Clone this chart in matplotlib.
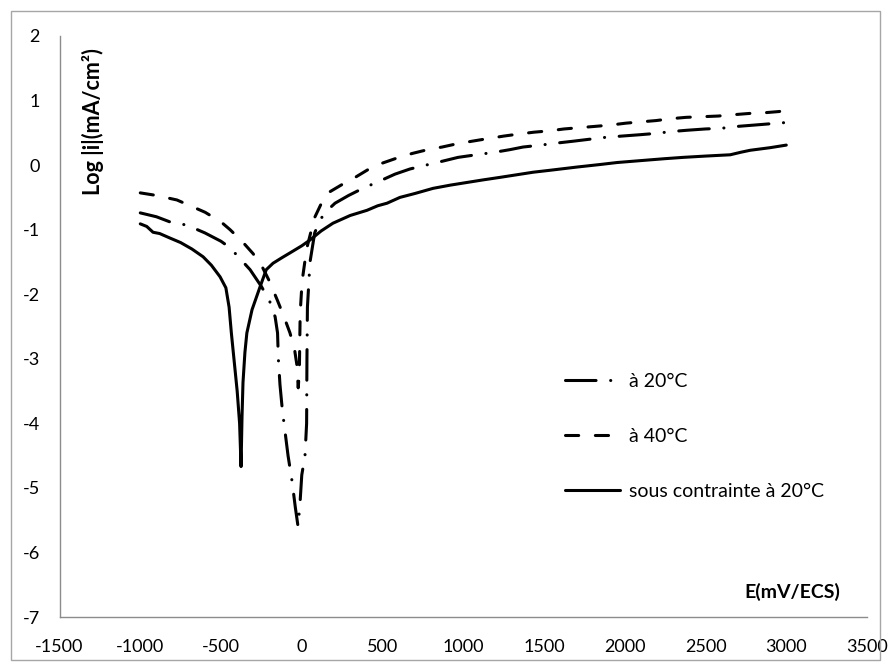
import matplotlib
matplotlib.use('Agg')
import matplotlib.pyplot as plt
from matplotlib.patches import Rectangle

plt.rcParams['font.family'] = ['Lato', 'DejaVu Sans']
plt.rcParams['lines.scale_dashes'] = False
plt.rcParams['axes.unicode_minus'] = False

# potentiel (mV/ECS) / log|i| pour chaque essai
e_20 = [-1000, -900, -816, -711, -600, -500, -444, -382, -320, -250, -200, -165,
        -150, -145, -135, -120, -100, -85, -60, -40, -23, -10, 0, 20, 30, 32, 35,
        51, 80, 113, 150, 206, 290, 378, 480, 577, 670, 769, 870, 968, 1080, 1197,
        1290, 1370, 1480, 1574, 1680, 1779, 1880, 1983, 2090, 2187, 2290, 2386,
        2500, 2597, 2700, 2801, 2900, 3000]
logi_20 = [-0.74, -0.8, -0.88, -0.93, -1.05, -1.18, -1.28, -1.45, -1.62, -1.88,
           -2.1, -2.35, -2.6, -3.0, -3.4, -3.8, -4.2, -4.5, -4.9, -5.3, -5.6, -5.2,
           -4.8, -4.5, -4.0, -3.0, -2.2, -1.5, -1.05, -0.85, -0.72, -0.59, -0.47,
           -0.36, -0.25, -0.14, -0.06, 0.0, 0.06, 0.12, 0.16, 0.2, 0.24, 0.28, 0.31,
           0.34, 0.37, 0.4, 0.43, 0.45, 0.47, 0.49, 0.52, 0.54, 0.56, 0.57, 0.6,
           0.62, 0.64, 0.66]

e_40 = [-1000, -900, -773, -700, -599, -500, -444, -370, -302, -250, -200, -150,
        -110, -73, -45, -30, -22, -15, -10, 2, 30, 60, 82, 120, 169, 250, 324, 410,
        498, 590, 683, 780, 869, 960, 1054, 1150, 1252, 1340, 1438, 1530, 1624,
        1720, 1816, 1910, 2008, 2100, 2194, 2290, 2380, 2480, 2578, 2670, 2770,
        2860, 2956, 3000]
logi_40 = [-0.43, -0.47, -0.54, -0.62, -0.73, -0.88, -1.0, -1.18, -1.37, -1.55,
           -1.8, -2.1, -2.35, -2.6, -2.85, -3.1, -3.45, -3.2, -2.3, -1.8, -1.3,
           -1.0, -0.8, -0.6, -0.42, -0.3, -0.2, -0.07, 0.03, 0.11, 0.18, 0.24, 0.28,
           0.33, 0.37, 0.41, 0.45, 0.48, 0.51, 0.53, 0.56, 0.58, 0.6, 0.62, 0.65,
           0.67, 0.69, 0.72, 0.74, 0.75, 0.76, 0.78, 0.8, 0.81, 0.83, 0.85]

e_sc = [-1000, -960, -921, -880, -816, -750, -680, -611, -560, -506, -470, -450,
        -436, -420, -400, -385, -376, -370, -364, -352, -340, -308, -259, -220,
        -178, -120, -73, 0, 51, 120, 193, 300, 404, 470, 528, 608, 700, 813, 920,
        1020, 1120, 1227, 1330, 1433, 1537, 1704, 1850, 1952, 2100, 2250, 2362,
        2500, 2653, 2720, 2777, 2900, 3000]
logi_sc = [-0.91, -0.95, -1.04, -1.06, -1.13, -1.2, -1.3, -1.42, -1.55, -1.73,
           -1.9, -2.2, -2.6, -3.0, -3.5, -4.0, -4.67, -3.9, -3.37, -2.9, -2.6,
           -2.24, -1.89, -1.62, -1.52, -1.43, -1.36, -1.25, -1.16, -1.02, -0.9,
           -0.78, -0.7, -0.63, -0.59, -0.5, -0.44, -0.36, -0.31, -0.27, -0.23,
           -0.19, -0.15, -0.11, -0.08, -0.03, 0.01, 0.04, 0.07, 0.1, 0.12, 0.14,
           0.16, 0.2, 0.23, 0.27, 0.31]

x_ticks = list(range(-1500, 3501, 500))
y_ticks = list(range(-7, 3))

fig = plt.figure(figsize=(8.91, 6.69), dpi=100)
ax = fig.add_axes([0.0668, 0.0777, 0.9063, 0.8685])

lw = 2.2
ax.plot(e_20, logi_20, color='black', lw=lw, dash_capstyle='round',
        dashes=(22, 10.5, 0.1, 10.5), label='à 20°C')
ax.plot(e_40, logi_40, color='black', lw=lw, dash_capstyle='round',
        dashes=(9.5, 12), label='à 40°C')
ax.plot(e_sc, logi_sc, color='black', lw=lw, solid_capstyle='round',
        label='sous contrainte à 20°C')

ax.set_xlim(-1500, 3500)
ax.set_ylim(-7, 2)
ax.set_xticks(x_ticks)
ax.set_yticks(y_ticks)
ax.tick_params(length=0, labelsize=13, colors='black')
ax.tick_params(axis='y', pad=14)
ax.tick_params(axis='x', pad=16)
for s in ('top', 'right'):
    ax.spines[s].set_visible(False)
for s in ('left', 'bottom'):
    ax.spines[s].set_color('#8c8c8c')
    ax.spines[s].set_linewidth(1.0)

fig.text(0.104, 0.819, 'Log |i|(mA/cm²)', rotation=90, ha='center', va='center',
         fontsize=15.5, fontweight='bold')
fig.text(0.889, 0.115, 'E(mV/ECS)', ha='center', va='center',
         fontsize=14, fontweight='bold')

ax.legend(loc='center left', bbox_to_anchor=(0.634, 0.3475),
          bbox_transform=fig.transFigure, frameon=False, fontsize=14,
          handlelength=2.85, handletextpad=0.45, labelspacing=1.95,
          borderpad=0, borderaxespad=0)

# cadre du graphique
fig.patches.append(Rectangle((11 / 891, 1 - 660 / 669), 869 / 891, 649 / 669,
                             transform=fig.transFigure, fill=False,
                             edgecolor='#a6a6a6', lw=1.0))

fig.savefig('out.png', dpi=100)
